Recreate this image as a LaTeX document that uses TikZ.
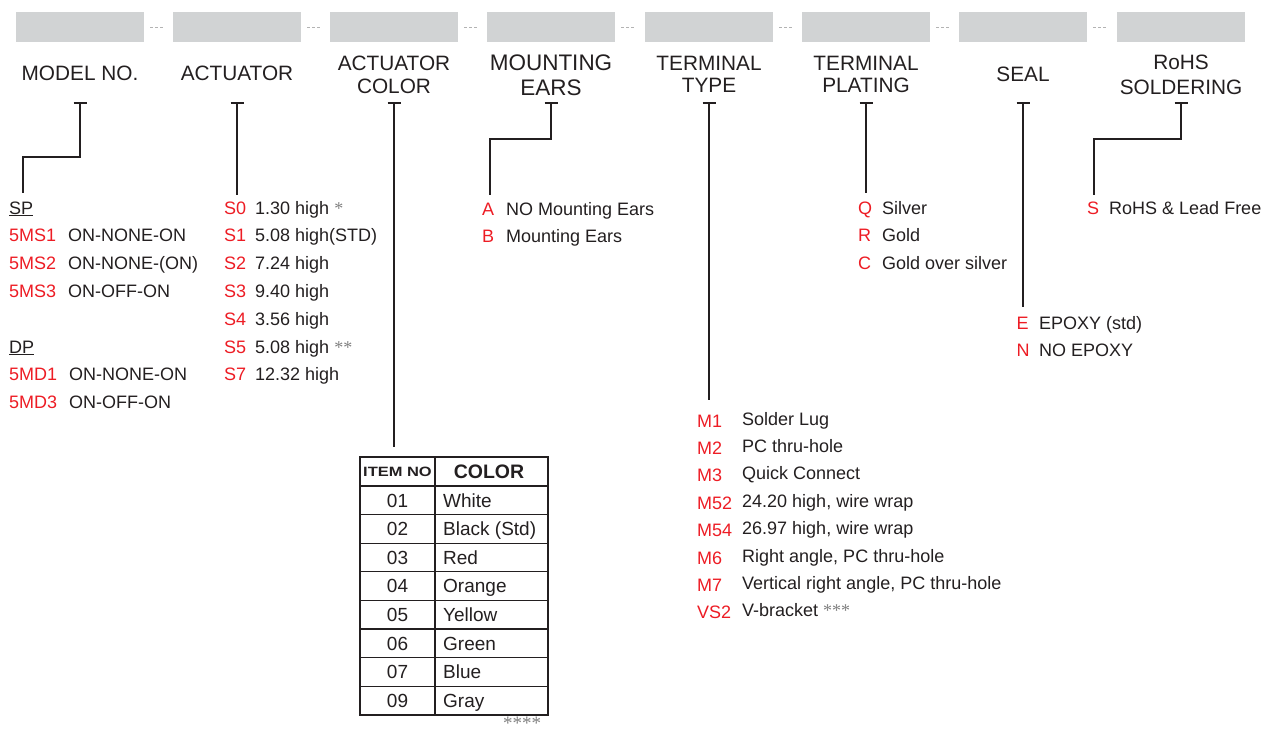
\documentclass[tikz,border=0pt]{standalone}
\usepackage{fontspec}
\setmainfont{Liberation Sans}
\newfontfamily\starfont{Liberation Serif}
\definecolor{txt}{HTML}{231F20}
\definecolor{codered}{HTML}{ED1C24}
\definecolor{boxgray}{HTML}{D1D3D4}
\definecolor{dashgray}{HTML}{B3B3B3}
\definecolor{stargray}{HTML}{7F7F7F}
\newcommand{\gstar}[1]{{\starfont\color{stargray}#1}}
\begin{document}
\begin{tikzpicture}[x=1pt,y=-1pt,
  gbox/.style={fill=boxgray,draw=none,minimum width=128pt,minimum height=30pt,inner sep=0pt,anchor=north west},
  sepline/.style={draw=dashgray,line width=0.8pt,dash pattern=on 3pt off 2pt},
  hdr/.style={font=\fontsize{20.8}{25}\selectfont,text=txt,inner sep=0pt,anchor=base},
  hdrbig/.style={font=\fontsize{22.5}{27}\selectfont,text=txt,inner sep=0pt,anchor=base},
  code/.style={font=\fontsize{18}{22}\selectfont,text=codered,inner sep=0pt,anchor=base west},
  desc/.style={font=\fontsize{18}{22}\selectfont,text=txt,inner sep=0pt,anchor=base west},
  conn/.style={draw=txt,line width=1.6pt},
  tbl/.style={draw=txt,line width=1.3pt},
  tbltxt/.style={font=\fontsize{19}{23}\selectfont,text=txt,inner sep=0pt},
]
\useasboundingbox (0,0) rectangle (1265,734);

% gray boxes
\foreach \i/\x in {1/16,2/173,3/330,4/487,5/645,6/802,7/959,8/1117}
  \node[gbox] (b\i) at (\x,12) {};
\foreach \a/\b in {1/2,2/3,3/4,4/5,5/6,6/7,7/8}
  \draw[sepline] ([xshift=6pt]b\a.east) -- ([xshift=-10pt]b\b.west);

% headers
\node[hdr] (h1) at (80,80) {MODEL NO.};
\node[hdr] (h2) at (237,80) {ACTUATOR};
\node[hdr] (h3a) at (394,70) {ACTUATOR};
\node[hdr] (h3b) at (394,93) {COLOR};
\node[hdrbig] (h4a) at (551,70) {MOUNTING};
\node[hdrbig] (h4b) at (551,95) {EARS};
\node[hdr] (h5a) at (709,70) {TERMINAL};
\node[hdr] (h5b) at (709,92) {TYPE};
\node[hdr] (h6a) at (866,70) {TERMINAL};
\node[hdr] (h6b) at (866,92) {PLATING};
\node[hdr] (h7) at (1023,81) {SEAL};
\node[hdr] (h8a) at (1181,69) {RoHS};
\node[hdr] (h8b) at (1181,94) {SOLDERING};

% connector coordinates
\coordinate (k1) at (80,103);   \coordinate (e1) at (23,193);
\coordinate (k2) at (237,103);  \coordinate (e2) at (237,195);
\coordinate (k3) at (394,103);  \coordinate (e3) at (394,447);
\coordinate (k4) at (551,103);  \coordinate (e4) at (490,195);
\coordinate (k5) at (709,103);  \coordinate (e5) at (709,400);
\coordinate (k6) at (866,103);  \coordinate (e6) at (866,193);
\coordinate (k7) at (1023,103); \coordinate (e7) at (1023,307);
\coordinate (k8) at (1181,103); \coordinate (e8) at (1094,195);
\foreach \i in {1,...,8}
  \draw[conn] ([xshift=-6.5pt]k\i) -- ([xshift=6.5pt]k\i);
\draw[conn] (k1) -- ++(0,54) -| (e1);
\draw[conn] (k2) -- (e2);
\draw[conn] (k3) -- (e3);
\draw[conn] (k4) -- ++(0,36) -| (e4);
\draw[conn] (k5) -- (e5);
\draw[conn] (k6) -- (e6);
\draw[conn] (k7) -- (e7);
\draw[conn] (k8) -- ++(0,36) -| (e8);

% column 1: model no.
\node[desc] (sp) at (9,214) {\underline{SP}};
\node[code] (c11) at (9,241.8) {5MS1}; \node[desc] (d11) at (68,241.8) {ON-NONE-ON};
\node[code] (c12) at (9,269.6) {5MS2}; \node[desc] (d12) at (68,269.6) {ON-NONE-(ON)};
\node[code] (c13) at (9,297.4) {5MS3}; \node[desc] (d13) at (68,297.4) {ON-OFF-ON};
\node[desc] (dp) at (9,353) {\underline{DP}};
\node[code] (c14) at (9,380.8) {5MD1}; \node[desc] (d14) at (69,380.8) {ON-NONE-ON};
\node[code] (c15) at (9,408.6) {5MD3}; \node[desc] (d15) at (69,408.6) {ON-OFF-ON};

% column 2: actuator
\node[code] (c21) at (224,214) {S0};    \node[desc] (d21) at (255,214) {1.30 high \gstar{*}};
\node[code] (c22) at (224,241.8) {S1};  \node[desc] (d22) at (255,241.8) {5.08 high(STD)};
\node[code] (c23) at (224,269.6) {S2};  \node[desc] (d23) at (255,269.6) {7.24 high};
\node[code] (c24) at (224,297.4) {S3};  \node[desc] (d24) at (255,297.4) {9.40 high};
\node[code] (c25) at (224,325.2) {S4};  \node[desc] (d25) at (255,325.2) {3.56 high};
\node[code] (c26) at (224,353) {S5};    \node[desc] (d26) at (255,353) {5.08 high \gstar{**}};
\node[code] (c27) at (224,380.8) {S7};  \node[desc] (d27) at (255,380.8) {12.32 high};

% column 4: mounting ears
\node[code] (c41) at (482,215) {A};   \node[desc] (d41) at (506,215) {NO Mounting Ears};
\node[code] (c42) at (482,242.8) {B}; \node[desc] (d42) at (506,242.8) {Mounting Ears};

% column 5: terminal type
\foreach \i/\c/\d in {0/M1/Solder Lug,1/M2/PC thru-hole,2/M3/Quick Connect,
    3/M52/{24.20 high, wire wrap},4/M54/{26.97 high, wire wrap},
    5/M6/{Right angle, PC thru-hole},6/M7/{Vertical right angle, PC thru-hole}}{
  \node[code] (c5\i) at (697,427+27.4*\i) {\c};
  \node[desc] (d5\i) at (742,425+27.4*\i) {\d};
}
\node[code] (c57) at (697,618.8) {VS2};
\node[desc] (d57) at (742,616.8) {V-bracket \gstar{***}};

% column 6: terminal plating
\node[code] (c61) at (858,214) {Q};   \node[desc] (d61) at (882,214) {Silver};
\node[code] (c62) at (858,241.8) {R}; \node[desc] (d62) at (882,241.8) {Gold};
\node[code] (c63) at (858,269.6) {C}; \node[desc] (d63) at (882,269.6) {Gold over silver};

% column 7: seal
\node[code] (c71) at (1016.5,329.3) {E}; \node[desc] (d71) at (1039,329.3) {EPOXY (std)};
\node[code] (c72) at (1016.5,356.7) {N}; \node[desc] (d72) at (1039,356.7) {NO EPOXY};

% column 8: RoHS
\node[code] (c81) at (1087,214) {S}; \node[desc] (d81) at (1109,214) {RoHS \& Lead Free};

% colour table
\foreach \k in {0,...,7}
  \draw[tbl] (360,486+28.6*\k) -- (548,486+28.6*\k);
\draw[tbl] (435,457) -- (435,714.8);
\draw[draw=txt,line width=1.6pt] (360,457) rectangle (548,714.8);
\node[tbltxt,font=\bfseries\fontsize{13.5}{15}\selectfont] (th1) at (397.5,471.5) {\scalebox{1.22}[1]{ITEM NO}};
\node[tbltxt,font=\bfseries\fontsize{19.5}{23}\selectfont,anchor=base] (th2) at (489,478.5) {COLOR};
\foreach \k/\n/\c in {0/01/White,1/02/Black (Std),2/03/Red,3/04/Orange,4/05/Yellow,5/06/Green,6/07/Blue,7/09/Gray}{
  \node[tbltxt,anchor=base] (n\k) at (397.5,507+28.6*\k) {\n};
  \node[tbltxt,anchor=base west] (t\k) at (443,507+28.6*\k) {\c};
}
\node[inner sep=0pt,anchor=base west,font=\fontsize{19}{23}\selectfont] (stars) at (503,729) {\gstar{****}};
\end{tikzpicture}
\end{document}
